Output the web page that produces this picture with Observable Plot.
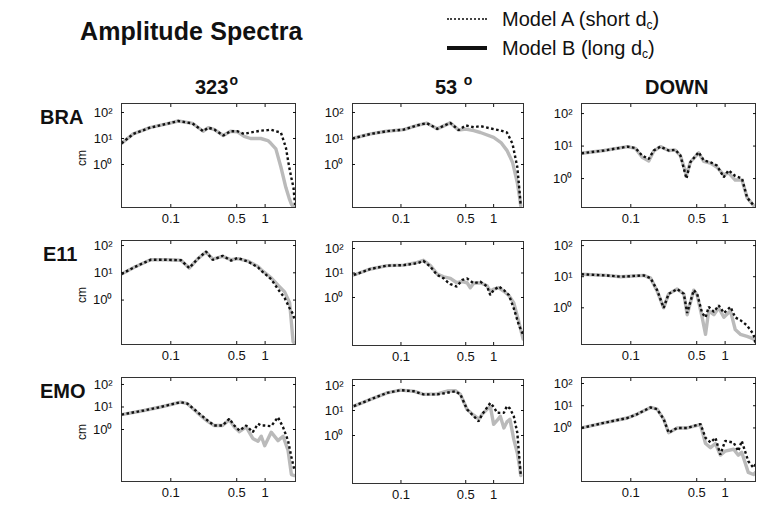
<!DOCTYPE html>
<html><head><meta charset="utf-8">
<script src="https://cdn.jsdelivr.net/npm/d3@7"></script>
<script src="https://cdn.jsdelivr.net/npm/@observablehq/plot@0.6"></script>
<style>
body{margin:0;background:#fff;}
#wrap{position:relative;width:770px;height:505px;background:#fff;font-family:"Liberation Sans",Arial,Helvetica,sans-serif;color:#111;overflow:hidden}
.t{position:absolute;white-space:nowrap;line-height:1;transform:translateY(-50%)}
.deg{font-size:14px;position:relative;top:-9px;margin-left:1px}
.sw{position:absolute;width:40px;height:0}
.cm{position:absolute;font-size:12px;line-height:1;transform:translate(-50%,-50%) rotate(-90deg);white-space:nowrap}
.sub{font-size:12px;position:relative;top:3px}
</style></head><body><div id="wrap"></div>
<script>
// ---------------- data ----------------
const stations = ["BRA", "E11", "EMO"];
const components = ["323", "53", "DOWN"];
const xTicks = [0.1, 0.5, 1];
const xTickLabels = ["0.1", "0.5", "1"];
const yTicks = [1, 10, 100];
const yTickLabels = ["10⁰", "10¹", "10²"];
const xDomain = [0.03, 2.1];

// BRA 323
const f_BRA_323 = [0.03,0.04,0.06,0.1,0.12,0.17,0.22,0.25,0.29,0.36,0.43,0.51,0.6,0.7,0.9,1.07,1.15,1.3,1.47,1.66,1.8,1.9,2.0,2.08];
const a_BRA_323 = [6.5,15,26,40,47,38,19,26,22,13,19,19,15,17,20,21,22,19,17,4.5,0.8,0.3,0.13,0.025];
const b_BRA_323 = [6.5,15,26,40,47,38,19,26,22,13,19,18,12,10,10,8.3,6.5,4,0.8,0.13,0.05,0.03,0.022,0.022];
// BRA 53
const f_BRA_53 = [0.03,0.047,0.07,0.107,0.15,0.19,0.246,0.34,0.42,0.5,0.61,0.72,1.0,1.2,1.39,1.5,1.6,1.8,1.9,1.96];
const a_BRA_53 = [10,15,19,22,32,39,23.5,40,21,32,27,30,23,20,17,10,6.2,0.8,0.1,0.026];
const b_BRA_53 = [10,15,19,22,32,39,23.5,40,21,23,20,17,11,7,3.5,2,1.2,0.2,0.06,0.026];
// BRA DOWN
const f_BRA_DOWN = [0.03,0.052,0.092,0.112,0.132,0.155,0.175,0.206,0.252,0.297,0.336,0.389,0.428,0.524,0.593,0.698,0.822,0.966,1.09,1.28,1.51,1.71,2.0];
const a_BRA_DOWN = [6,7.3,9.6,8.7,5.1,4,7.3,9.6,7.3,7.7,5.1,1.0,3.2,6.5,3.6,3.2,2.5,1.1,1.8,1.2,1.0,0.26,0.15];
const b_BRA_DOWN = [6,7.3,9.6,8.5,4.5,3.5,7,9.6,7.3,7.5,5,1.3,3.2,6.2,3.4,3,2.2,1.3,1.5,0.9,0.9,0.26,0.15];
// E11 323
const f_E11_323 = [0.03,0.041,0.061,0.092,0.128,0.157,0.192,0.236,0.278,0.355,0.435,0.513,0.656,0.84,0.91,1.16,1.37,1.61,1.82,1.98,2.05];
const a_E11_323 = [9,16,30,30,29,15,32,60,30,42,28,35,26,16,12,5.8,2.5,1.2,0.5,0.3,0.19];
const b_E11_323 = [9,16,30,30,29,15,32,58,32,40,30,33,27,17,13,6.5,3.5,2,0.8,0.03,0.026];
// E11 53
const f_E11_53 = [0.031,0.047,0.071,0.107,0.15,0.175,0.208,0.246,0.29,0.315,0.342,0.40,0.458,0.517,0.56,0.61,0.72,0.85,0.92,1.0,1.14,1.29,1.46,1.65,1.87,2.08];
const a_E11_53 = [8.3,14.6,20,21,25,31,18,8.3,6,4.4,3.5,2.8,5.2,6,4.8,3.8,4.4,2.8,1.26,2,2.8,2,1.26,0.36,0.076,0.03];
const b_E11_53 = [8.3,14.6,20,21,27,33,20,9,7,6.5,6,4,4.5,4,2.5,3.8,4,3,1.8,2.2,2.5,1.8,1.2,0.6,0.1,0.02];
// E11 DOWN
const f_E11_DOWN = [0.03,0.055,0.078,0.137,0.162,0.19,0.223,0.252,0.31,0.365,0.396,0.465,0.505,0.57,0.62,0.67,0.76,0.855,0.97,1.14,1.28,1.45,1.71,2.0,2.1];
const a_E11_DOWN = [12,11,10,11,9,3.7,1.0,2.8,4,2.8,0.68,3.7,2.8,0.68,0.49,1.07,0.74,1.2,0.68,1.07,0.49,0.4,0.27,0.14,0.075];
const b_E11_DOWN = [12,11,10,11,9,3.5,1.0,2.8,4,2.8,0.6,3.7,2.6,0.5,0.14,0.8,0.6,1.0,0.5,0.8,0.2,0.14,0.12,0.1,0.08];
// EMO 323
const f_EMO_323 = [0.03,0.052,0.078,0.127,0.15,0.192,0.246,0.288,0.354,0.417,0.472,0.534,0.63,0.74,0.84,0.91,0.99,1.16,1.37,1.55,1.75,1.9,2.05];
const a_EMO_323 = [4.6,7,10,16.4,14,5.9,2.5,1.5,1.5,3,1.5,0.9,1.5,0.76,1.8,1.5,1.5,1.4,3.5,1.26,0.32,0.06,0.015];
const b_EMO_323 = [4.6,7,10,16.4,14,5.5,2.3,1.5,1.5,2.7,1.3,0.8,1.3,0.4,0.3,0.5,0.19,0.76,0.32,0.5,0.12,0.01,0.009];
// EMO 53
const f_EMO_53 = [0.031,0.047,0.071,0.099,0.137,0.175,0.246,0.315,0.386,0.438,0.517,0.61,0.69,0.75,0.92,1.0,1.09,1.18,1.29,1.39,1.5,1.65,1.8,1.9,1.96];
const a_EMO_53 = [15,28,51,65,59,44,44,51,59,44,11,5.9,3.7,6.9,20,14,8.1,8,8.1,15,12,5.9,1.3,0.11,0.028];
const b_EMO_53 = [15,28,51,65,59,44,46,60,62,44,11,6.5,4.5,7,15,2.8,4,5.9,2,3.5,4.4,0.7,0.2,0.06,0.025];
// EMO DOWN
const f_EMO_DOWN = [0.03,0.052,0.092,0.117,0.162,0.19,0.223,0.252,0.31,0.396,0.548,0.62,0.70,0.79,0.89,1.0,1.23,1.38,1.5,1.76,2.0,2.1];
const a_EMO_DOWN = [1.0,1.7,2.8,4.2,8.4,7,2.5,0.61,1.0,1.0,1.5,0.36,0.22,0.36,0.063,0.26,0.22,0.09,0.26,0.032,0.016,0.023];
const b_EMO_DOWN = [1.0,1.7,2.8,4.2,8.4,7,2.5,0.61,1.0,1.0,1.4,0.2,0.13,0.2,0.06,0.09,0.11,0.06,0.08,0.01,0.008,0.01];

// per-panel y-axis exponent limits (row-major)
const yExpLo = [-1.654, -1.654, -0.89, -1.63, -1.96, -1.18, -2.31, -1.92, -2.41];
const yExpHi = [2.346, 2.346, 2.31, 2.185, 2.286, 2.164, 2.31, 2.24, 2.27];

// ---------------- layout ----------------
const colX = [121, 352, 581];
const colW = [174, 171, 174];
const rowY = [[103,103,103],[240,241,240],[377,379,377]];
const frameH = 104;

const series = {
  BRA_323:[f_BRA_323,a_BRA_323,b_BRA_323], BRA_53:[f_BRA_53,a_BRA_53,b_BRA_53], BRA_DOWN:[f_BRA_DOWN,a_BRA_DOWN,b_BRA_DOWN],
  E11_323:[f_E11_323,a_E11_323,b_E11_323], E11_53:[f_E11_53,a_E11_53,b_E11_53], E11_DOWN:[f_E11_DOWN,a_E11_DOWN,b_E11_DOWN],
  EMO_323:[f_EMO_323,a_EMO_323,b_EMO_323], EMO_53:[f_EMO_53,a_EMO_53,b_EMO_53], EMO_DOWN:[f_EMO_DOWN,a_EMO_DOWN,b_EMO_DOWN]
};

const wrap = document.getElementById("wrap");
function addText(html, x, y, css) {
  const d = document.createElement("div");
  d.className = "t"; d.innerHTML = html;
  d.style.left = x + "px"; d.style.top = y + "px";
  Object.assign(d.style, css || {});
  wrap.appendChild(d); return d;
}

// title & legend
addText("Amplitude Spectra", 80, 31, {fontSize:"25px", fontWeight:"bold", letterSpacing:"0.1px"});
const sw1 = document.createElement("div"); sw1.className="sw";
Object.assign(sw1.style,{left:"447px", top:"18px", borderTop:"2px dotted #444"}); wrap.appendChild(sw1);
const sw2 = document.createElement("div"); sw2.className="sw";
Object.assign(sw2.style,{left:"447px", top:"46px", borderTop:"4px solid #111"}); wrap.appendChild(sw2);
addText('Model A (short d<span class="sub">c</span>)', 502, 19, {fontSize:"20px"});
addText('Model B (long d<span class="sub">c</span>)', 502, 48, {fontSize:"20px"});

// column headers
addText('323<span class="deg">o</span>', 195, 87, {fontSize:"20px", fontWeight:"bold"});
addText('53 <span class="deg">o</span>', 435, 87, {fontSize:"20px", fontWeight:"bold"});
addText('DOWN', 645, 87, {fontSize:"20px", fontWeight:"bold"});

const ml = 46, mr = 6, mt = 6, mb = 26;
stations.forEach((st, r) => {
  addText(st, r === 1 ? 43 : 40, rowY[r][0] + 14, {fontSize:"20px", fontWeight:"bold"});
  const cm = document.createElement("div"); cm.className = "cm"; cm.textContent = "cm";
  cm.style.left = "82px"; cm.style.top = (rowY[r][0] + 55) + "px"; wrap.appendChild(cm);
  components.forEach((cp, c) => {
    const idx = r * 3 + c;
    const [f, a, b] = series[st + "_" + cp];
    const A = f.map((x, i) => ({f: x, v: a[i]}));
    const B = f.map((x, i) => ({f: x, v: b[i]}));
    const X = xTicks.map((t, i) => ({t, label: xTickLabels[i]}));
    const p = Plot.plot({
      width: colW[c] + ml + mr, height: frameH + mt + mb,
      marginLeft: ml, marginRight: mr, marginTop: mt, marginBottom: mb,
      style: {background: "transparent", fontFamily: '"Liberation Sans", Arial, sans-serif', fontSize: "13px", color: "#111", overflow: "visible"},
      x: {type: "log", domain: xDomain},
      y: {type: "log", domain: [Math.pow(10, yExpLo[idx]), Math.pow(10, yExpHi[idx])]},
      marks: [
        Plot.line(B, {x: "f", y: "v", stroke: "#bababa", strokeWidth: 3.4, clip: true}),
        Plot.line(A, {x: "f", y: "v", stroke: "#111", strokeWidth: 2.4, strokeDasharray: "2.6,2.5", strokeLinecap: "butt", strokeLinejoin: "miter", clip: true}),
        Plot.frame({stroke: "#333", strokeWidth: 1}),
        Plot.axisX(xTicks, {anchor: "bottom", tickSize: -3, tickFormat: () => "", label: null}),
        Plot.axisX(xTicks, {anchor: "top", tickSize: -3, tickFormat: () => "", label: null}),
        Plot.text(X, {x: "t", text: "label", frameAnchor: "bottom", lineAnchor: "top", dy: 6, fontSize: 13}),
        Plot.axisY(yTicks, {anchor: "left", tickSize: -3, tickPadding: 12, tickFormat: d => yTickLabels[yTicks.indexOf(d)], label: null, fontSize: 13}),
        Plot.axisY(yTicks, {anchor: "right", tickSize: -3, tickFormat: () => "", label: null})
      ]
    });
    p.style.position = "absolute";
    p.style.left = (colX[c] - ml) + "px";
    p.style.top = (rowY[r][c] - mt) + "px";
    wrap.appendChild(p);
  });
});
</script>
</body></html>
